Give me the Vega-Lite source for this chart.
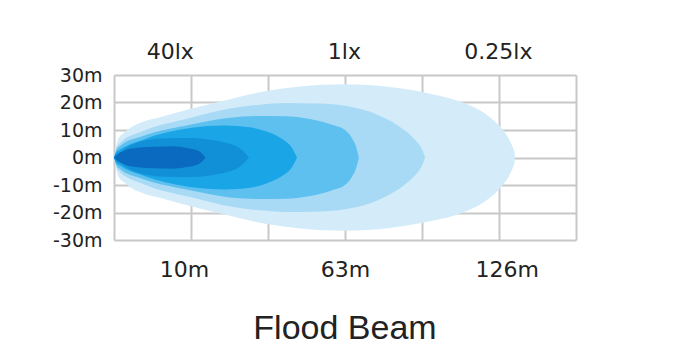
{
  "$schema": "https://vega.github.io/schema/vega-lite/v6.json",
  "width": 462,
  "height": 165,
  "autosize": {"type": "none"},
  "padding": {"left": 114, "top": 75, "right": 124, "bottom": 118},
  "background": "white",
  "config": {"view": {"stroke": null}, "axis": {"labelFont": "DejaVu Sans", "labelColor": "#222222"}},
  "title": {"text": "Flood Beam", "orient": "bottom", "font": "Liberation Sans", "fontSize": 34, "fontWeight": "normal", "color": "#222222", "anchor": "middle", "offset": 32},
  "datasets": {
    "b1": [
      {"d": 0, "hi": 0, "lo": 0}, {"d": 0.52, "hi": 4, "lo": -4}, {"d": 1.04, "hi": 6.5, "lo": -6.5}, {"d": 2.6, "hi": 9, "lo": -9},
      {"d": 4.16, "hi": 10.7, "lo": -10.7}, {"d": 7.53, "hi": 13, "lo": -13}, {"d": 11.95, "hi": 14.6, "lo": -14.6}, {"d": 19.74, "hi": 17.6, "lo": -17.6},
      {"d": 30.13, "hi": 21.2, "lo": -21.2}, {"d": 40, "hi": 24.3, "lo": -24.3}, {"d": 48.31, "hi": 25.8, "lo": -25.8}, {"d": 60, "hi": 26.6, "lo": -26.6},
      {"d": 71.69, "hi": 25.6, "lo": -25.6}, {"d": 82.08, "hi": 23.2, "lo": -23.2}, {"d": 90.65, "hi": 20, "lo": -20}, {"d": 96.36, "hi": 16, "lo": -16},
      {"d": 99.74, "hi": 12, "lo": -12}, {"d": 101.56, "hi": 9, "lo": -9}, {"d": 102.86, "hi": 6, "lo": -6}, {"d": 103.64, "hi": 3.5, "lo": -3.5},
      {"d": 104.03, "hi": 2, "lo": -2}, {"d": 104.16, "hi": 0, "lo": 0}
    ],
    "b2": [
      {"d": 0, "hi": 0, "lo": 0}, {"d": 0.52, "hi": 3, "lo": -3}, {"d": 1.56, "hi": 5.3, "lo": -5.3}, {"d": 7.53, "hi": 9.6, "lo": -9.6},
      {"d": 19.74, "hi": 14.4, "lo": -14.4}, {"d": 30.13, "hi": 17.8, "lo": -17.8}, {"d": 37.92, "hi": 19.2, "lo": -19.2}, {"d": 44.42, "hi": 19.8, "lo": -19.8},
      {"d": 53.51, "hi": 19.6, "lo": -19.6}, {"d": 60, "hi": 18.8, "lo": -18.8}, {"d": 68.57, "hi": 15.5, "lo": -15.5}, {"d": 75.58, "hi": 9.8, "lo": -9.8},
      {"d": 78.18, "hi": 6.5, "lo": -6.5}, {"d": 79.48, "hi": 4.3, "lo": -4.3}, {"d": 80.26, "hi": 2.2, "lo": -2.2}, {"d": 80.78, "hi": 0, "lo": 0}
    ],
    "b3": [
      {"d": 0, "hi": 0, "lo": 0}, {"d": 0.52, "hi": 2.5, "lo": -2.5}, {"d": 1.56, "hi": 4.2, "lo": -4.2}, {"d": 7.53, "hi": 7.8, "lo": -7.8},
      {"d": 19.74, "hi": 11.9, "lo": -11.9}, {"d": 30.13, "hi": 14.5, "lo": -14.5}, {"d": 37.92, "hi": 15.1, "lo": -15.1}, {"d": 44.42, "hi": 15, "lo": -15},
      {"d": 50.91, "hi": 14, "lo": -14}, {"d": 56.88, "hi": 11.8, "lo": -11.8}, {"d": 60, "hi": 10, "lo": -10}, {"d": 61.82, "hi": 7, "lo": -7},
      {"d": 62.86, "hi": 4, "lo": -4}, {"d": 63.6, "hi": 0, "lo": 0}
    ],
    "b4": [
      {"d": 0, "hi": 0, "lo": 0}, {"d": 0.52, "hi": 1.8, "lo": -1.8}, {"d": 1.56, "hi": 2.9, "lo": -2.9}, {"d": 7.53, "hi": 6.5, "lo": -6.5},
      {"d": 19.74, "hi": 10.7, "lo": -10.7}, {"d": 28.83, "hi": 11.6, "lo": -11.6}, {"d": 35.32, "hi": 11, "lo": -11}, {"d": 39.22, "hi": 9.6, "lo": -9.6},
      {"d": 43.12, "hi": 7.2, "lo": -7.2}, {"d": 44.42, "hi": 6, "lo": -6}, {"d": 46.23, "hi": 3.5, "lo": -3.5}, {"d": 47.53, "hi": 0, "lo": 0}
    ],
    "b5": [
      {"d": 0, "hi": 0, "lo": 0}, {"d": 0.52, "hi": 1.2, "lo": -1.2}, {"d": 1.56, "hi": 1.9, "lo": -1.9}, {"d": 2.86, "hi": 3.3, "lo": -3.3},
      {"d": 7.53, "hi": 6, "lo": -6}, {"d": 13.25, "hi": 7, "lo": -7}, {"d": 19.74, "hi": 7.1, "lo": -7.1}, {"d": 24.94, "hi": 6.5, "lo": -6.5},
      {"d": 29.35, "hi": 5.3, "lo": -5.3}, {"d": 32.21, "hi": 3.8, "lo": -3.8}, {"d": 33.25, "hi": 2.7, "lo": -2.7}, {"d": 35.06, "hi": 0, "lo": 0}
    ],
    "b6": [
      {"d": 0, "hi": 0, "lo": 0}, {"d": 1.04, "hi": 1.3, "lo": -1.3}, {"d": 2.86, "hi": 2.6, "lo": -2.6}, {"d": 6.75, "hi": 3.6, "lo": -3.6},
      {"d": 10.65, "hi": 3.9, "lo": -3.9}, {"d": 15.32, "hi": 4.1, "lo": -4.1}, {"d": 19.22, "hi": 3.4, "lo": -3.4}, {"d": 21.56, "hi": 2.6, "lo": -2.6},
      {"d": 22.86, "hi": 1.5, "lo": -1.5}, {"d": 23.77, "hi": 0, "lo": 0}
    ]
  },
  "resolve": {"axis": {"x": "independent", "y": "independent"}},
  "layer": [
    {
      "data": {"name": "b1"},
      "mark": {"type": "area", "color": "#d4ecf9", "interpolate": "monotone"},
      "encoding": {
        "x": {"field": "d", "type": "quantitative", "scale": {"domain": [0, 120], "nice": false},
          "axis": {"orient": "bottom", "values": [0, 18.2, 20, 40, 60, 80, 100, 102, 120],
            "labelExpr": "datum.value == 18.2 ? '10m' : datum.value == 60 ? '63m' : datum.value == 102 ? '126m' : ''",
            "grid": true, "gridColor": "#c8c8c8", "gridWidth": 2,
            "gridOpacity": {"condition": {"test": "datum.value == 18.2 || datum.value == 102", "value": 0}, "value": 1},
            "ticks": false, "tickSize": 0, "domain": false, "labelFontSize": 22, "labelPadding": 36,
            "labelBaseline": "alphabetic", "labelOverlap": false, "labelFlush": false, "labelBound": false, "title": null}},
        "y": {"field": "hi", "type": "quantitative", "scale": {"domain": [-30, 30], "nice": false},
          "axis": {"orient": "left", "values": [-30, -20, -10, 0, 10, 20, 30], "labelExpr": "datum.value + 'm'",
            "grid": true, "gridColor": "#c8c8c8", "gridWidth": 2, "ticks": false, "tickSize": 0, "domain": false,
            "labelFontSize": 19, "labelPadding": 12, "labelOverlap": false, "labelFlush": false, "labelBound": false, "title": null}},
        "y2": {"field": "lo"}
      }
    },
    {
      "data": {"name": "b2"},
      "mark": {"type": "area", "color": "#a9daf5", "interpolate": "monotone"},
      "encoding": {
        "x": {"field": "d", "type": "quantitative", "scale": {"domain": [0, 120], "nice": false},
          "axis": {"orient": "top", "values": [14.5, 59.7, 99.7],
            "labelExpr": "datum.value < 30 ? '40lx' : datum.value < 80 ? '1lx' : '0.25lx'",
            "grid": false, "ticks": false, "tickSize": 0, "domain": false, "labelFontSize": 22, "labelPadding": 17,
            "labelBaseline": "alphabetic", "labelOverlap": false, "labelFlush": false, "labelBound": false, "title": null}},
        "y": {"field": "hi", "type": "quantitative", "scale": {"domain": [-30, 30], "nice": false}, "axis": null},
        "y2": {"field": "lo"}
      }
    },
    {
      "data": {"name": "b3"},
      "mark": {"type": "area", "color": "#5dc0ef", "interpolate": "monotone"},
      "encoding": {
        "x": {"field": "d", "type": "quantitative", "scale": {"domain": [0, 120], "nice": false}, "axis": null},
        "y": {"field": "hi", "type": "quantitative", "scale": {"domain": [-30, 30], "nice": false}, "axis": null},
        "y2": {"field": "lo"}
      }
    },
    {
      "data": {"name": "b4"},
      "mark": {"type": "area", "color": "#1aa5e6", "interpolate": "monotone"},
      "encoding": {
        "x": {"field": "d", "type": "quantitative", "scale": {"domain": [0, 120], "nice": false}, "axis": null},
        "y": {"field": "hi", "type": "quantitative", "scale": {"domain": [-30, 30], "nice": false}, "axis": null},
        "y2": {"field": "lo"}
      }
    },
    {
      "data": {"name": "b5"},
      "mark": {"type": "area", "color": "#1190d8", "interpolate": "monotone"},
      "encoding": {
        "x": {"field": "d", "type": "quantitative", "scale": {"domain": [0, 120], "nice": false}, "axis": null},
        "y": {"field": "hi", "type": "quantitative", "scale": {"domain": [-30, 30], "nice": false}, "axis": null},
        "y2": {"field": "lo"}
      }
    },
    {
      "data": {"name": "b6"},
      "mark": {"type": "area", "color": "#0a6abf", "interpolate": "monotone"},
      "encoding": {
        "x": {"field": "d", "type": "quantitative", "scale": {"domain": [0, 120], "nice": false}, "axis": null},
        "y": {"field": "hi", "type": "quantitative", "scale": {"domain": [-30, 30], "nice": false}, "axis": null},
        "y2": {"field": "lo"}
      }
    }
  ]
}
